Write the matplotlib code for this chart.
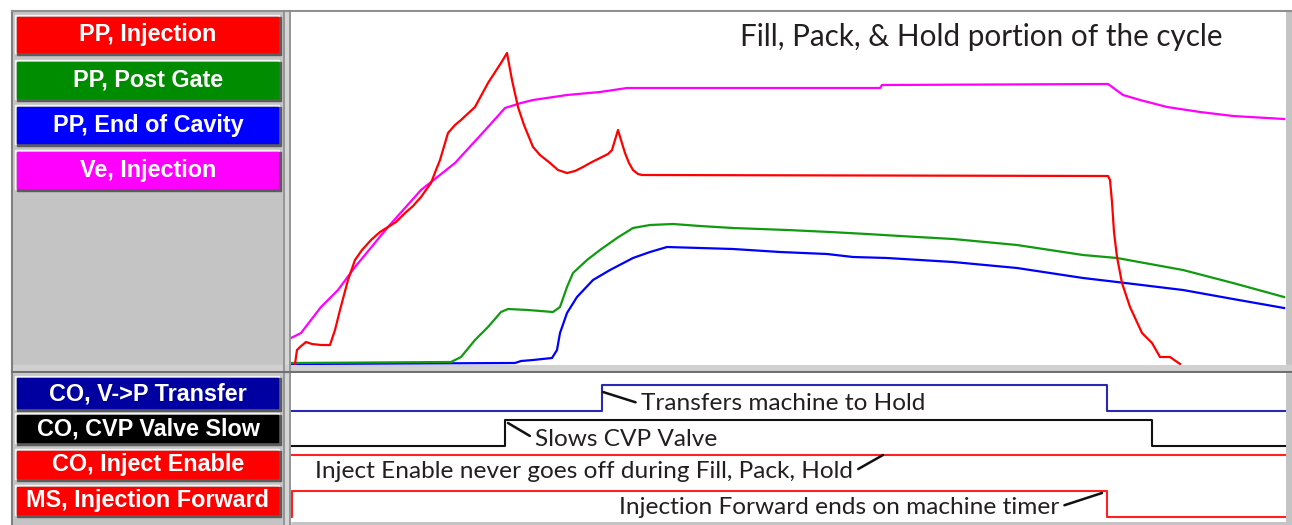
import numpy as np
import matplotlib.pyplot as plt
from matplotlib.patches import Rectangle

plt.rcParams['font.family'] = ['Lato', 'DejaVu Sans']

# ---- analog traces (time, value) ----
inj_t = [4, 6, 9, 15, 21, 30, 39, 44, 49, 57, 64, 71, 80, 89, 97, 105, 114, 122, 130, 140, 145, 149,
         157, 164, 170, 184, 197, 210, 216, 221, 227, 233, 242, 249, 259, 267, 276, 284, 292, 301, 309,
         317, 321, 324, 327, 330, 334, 338, 342, 347, 351, 817, 819, 821, 823, 826, 831, 839, 845, 851,
         861, 869, 879, 889]
inj_p = [0, 14, 17, 22, 20, 19, 19, 34, 54, 84, 104, 114, 124, 132, 137, 142, 151, 158, 167, 181, 194, 204,
         231, 239, 244, 257, 281, 301, 311, 284, 257, 239, 217, 209, 201, 194, 191, 193, 197, 202, 206,
         210, 214, 224, 234, 224, 211, 201, 194, 190, 189, 188, 184, 162, 132, 107, 81, 57, 44, 31,
         21, 7, 7, 0]

gate_t = [0, 160, 170, 184, 197, 210, 217, 237, 262, 269, 276, 282, 296, 309, 326, 342, 359, 382, 409,
          442, 496, 539, 576, 609, 662, 726, 792, 826, 892, 942, 993]
gate_p = [1, 2, 7, 24, 37, 52, 55, 54, 52, 57, 77, 91, 104, 114, 126, 136, 139, 140, 138,
          136, 134, 132, 130, 128, 125, 119, 109, 106, 94, 81, 67]

eoc_t = [0, 224, 230, 242, 261, 266, 269, 276, 286, 302, 319, 342, 359, 376, 409, 442, 489, 536, 562,
         596, 629, 662, 726, 792, 826, 892, 942, 993]
eoc_p = [0, 1, 3, 4, 6, 14, 31, 51, 67, 84, 94, 106, 112, 117, 116, 115, 112, 110, 107,
         106, 104, 102, 96, 86, 82, 74, 65, 56]

vel_t = [0, 10, 30, 47, 64, 97, 130, 164, 197, 214, 230, 242, 276, 309, 336, 589, 591, 817, 832, 849,
         876, 909, 942, 993]
vel_v = [26, 31, 57, 74, 97, 137, 174, 201, 237, 256, 261, 264, 269, 272, 276, 276, 279, 280, 269, 264,
         257, 252, 248, 245]

# ---- digital channels: switch times and states ----
vp_t = [0, 311, 816, 994]
vp_s = [0, 1, 0]
cvp_t = [0, 214, 861, 994]
cvp_s = [0, 1, 0]
ena_t = [0, 994]
ena_s = [1]
fwd_t = [0, 1, 816, 994]
fwd_s = [0, 1, 0]

top_labels = ['PP, Injection', 'PP, Post Gate', 'PP, End of Cavity', 'Ve, Injection']
top_colors = ['#ff0000', '#008c00', '#0000ff', '#ff00ff']
bot_labels = ['CO, V->P Transfer', 'CO, CVP Valve Slow', 'CO, Inject Enable', 'MS, Injection Forward']
bot_colors = ['#0000a0', '#000000', '#ff0000', '#ff0000']

W, H = 1292, 525
fig = plt.figure(figsize=(W / 100, H / 100), dpi=100)


def box(x0, y0, x1, y1):
    return [x0 / W, 1 - y1 / H, (x1 - x0) / W, (y1 - y0) / H]


# background panel (pixel coords)
bg = fig.add_axes([0, 0, 1, 1])
bg.set_xlim(0, W)
bg.set_ylim(H, 0)
bg.axis('off')
bg.add_patch(Rectangle((12, 11), W - 12, H - 11, color='#c4c4c4'))
bg.plot([12, 12], [11, H], color='#808080', lw=1.5)
bg.plot([12, W], [11, 11], color='#909090', lw=1.5)
bg.add_patch(Rectangle((283, 11), 8, H, color='#d6d6d6'))
bg.plot([284, 284], [11, H], color='#8a8a8a', lw=1.2)
bg.plot([290, 290], [11, H], color='#8a8a8a', lw=1.2)
bg.add_patch(Rectangle((12, 365), W, 8, color='#d0d0d0'))
bg.plot([12, W], [372, 372], color='#707070', lw=1.5)


def button(x0, y0, x1, y1, label, color):
    bg.add_patch(Rectangle((x0 - 2, y0 - 2), x1 - x0 + 2, y1 - y0 + 2, color='#f4f4f4'))
    bg.add_patch(Rectangle((x0, y0), x1 - x0 + 2, y1 - y0 + 2, color='#5c5c5c'))
    bg.add_patch(Rectangle((x0, y0), x1 - x0 - 1, y1 - y0 - 1, color=color))
    bg.text((x0 + x1) / 2, (y0 + y1) / 2, label, color='white', ha='center', va='center',
            fontsize=16.8, fontweight='bold', family='Liberation Sans')


top_rows = [(17, 53), (62, 99), (107, 144), (152, 189)]
bot_rows = [(378, 409), (415, 443), (451, 479), (487, 515)]
for (y0, y1), lab, c in zip(top_rows, top_labels, top_colors):
    button(17, y0, 279, y1, lab, c)
for (y0, y1), lab, c in zip(bot_rows, bot_labels, bot_colors):
    button(17, y0, 279, y1, lab, c)

# ---- top: analog traces ----
ax = fig.add_axes(box(291, 12, 1286, 365))
ax.plot(eoc_t, eoc_p, color='#0000ff', lw=1.6)
ax.plot(gate_t, gate_p, color='#109a10', lw=1.6)
ax.plot(vel_t, vel_v, color='#ff00ff', lw=1.6)
ax.plot(inj_t, inj_p, color='#ff0000', lw=1.6)
ax.set_xlim(0, 995)
ax.set_ylim(-1, 352)
ax.set_xticks([])
ax.set_yticks([])
for s in ax.spines.values():
    s.set_visible(False)
ax.text(0.936, 0.928, 'Fill, Pack, & Hold portion of the cycle', transform=ax.transAxes,
        ha='right', va='center', fontsize=21.3, color='#231f20')

# ---- bottom: digital channels ----
ax2 = fig.add_axes(box(291, 373, 1286, 522))
base = [111, 76, 41, 5]
amp = 26
chans = [(vp_t, vp_s, '#2a2ab0'), (cvp_t, cvp_s, '#111111'),
         (ena_t, ena_s, '#ff2020'), (fwd_t, fwd_s, '#ff2020')]
for b, (t, s, c) in zip(base, chans):
    y = b + amp * np.array(list(s) + [s[-1]])
    ax2.step(t, y, where='post', color=c, lw=1.5)
ax2.set_xlim(0, 995)
ax2.set_ylim(0, 149)
ax2.set_xticks([])
ax2.set_yticks([])
for s in ax2.spines.values():
    s.set_visible(False)

notes = [
    ('Transfers machine to Hold', (312, 130), (350, 118), 'left'),
    ('Slows CVP Valve', (217, 99), (244, 83), 'left'),
    ('Inject Enable never goes off during Fill, Pack, Hold', (592, 67), (562, 50), 'right'),
    ('Injection Forward ends on machine timer', (811, 29), (768, 15), 'right'),
]
for txt, xy, xyt, ha in notes:
    ax2.annotate(txt, xy=xy, xytext=xyt, ha=ha, va='center', fontsize=17.6, color='#231f20',
                 arrowprops=dict(arrowstyle='-', lw=1.8, color='#111111', shrinkA=2, shrinkB=0,
                                 relpos=(0, 0.5) if ha == 'left' else (1, 0.5)))

fig.savefig('out.png', dpi=100)
